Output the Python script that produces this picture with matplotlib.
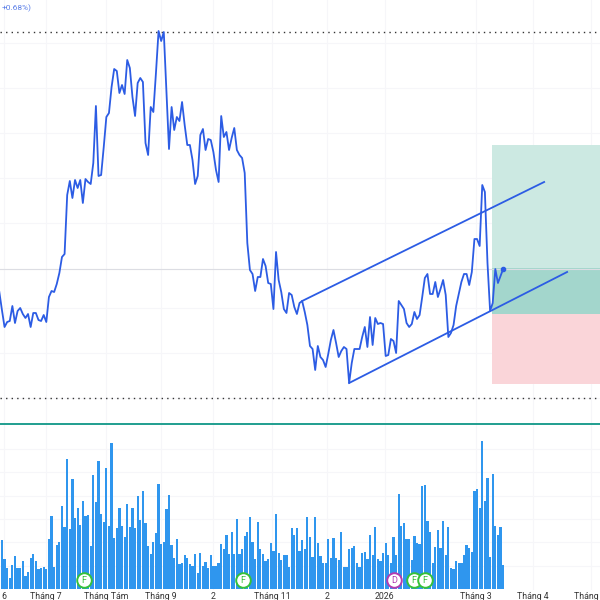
import matplotlib.pyplot as plt
import numpy as np

plt.rcParams['font.family'] = ['Roboto', 'DejaVu Sans']

closes = [
    131, 113, 96, 101, 102, 117, 100, 112, 115, 109,
    105, 109, 96, 110, 110, 103, 102, 108, 101, 126,
    132, 131, 139, 150, 166, 169, 228, 242, 225, 243,
    235, 243, 220, 244, 241, 239, 260, 317, 247, 248,
    276, 306, 310, 336, 354, 352, 330, 338, 329, 363,
    355, 326, 307, 340, 345, 341, 280, 268, 316, 311,
    350, 392, 382, 391, 333, 274, 316, 293, 306, 302,
    321, 298, 278, 278, 263, 239, 247, 288, 294, 273,
    284, 283, 271, 253, 241, 307, 286, 291, 273, 285,
    295, 273, 268, 265, 250, 180, 153, 149, 132, 146,
    146, 164, 157, 140, 139, 114, 171, 143, 131, 114,
    110, 130, 128, 116, 109, 120, 122, 111, 98, 77,
    74, 53, 77, 66, 63, 56, 69, 83, 93, 80,
    66, 72, 76, 74, 40, 60, 74, 74, 74, 86,
    96, 76, 106, 78, 105, 99, 100, 99, 67, 68,
    84, 82, 70, 122, 118, 114, 100, 96, 99, 111,
    104, 108, 126, 145, 149, 129, 129, 141, 126, 134,
    143, 128, 86, 90, 98, 117, 129, 141, 149, 149,
    138, 151, 184, 184, 177, 238, 231, 160, 112, 120,
    154, 140, 147, 154,
]

volumes = [
    72, 147, 89, 62, 34, 72, 99, 62, 63, 83,
    39, 52, 92, 105, 85, 60, 64, 65, 59, 151,
    218, 67, 132, 140, 248, 187, 389, 179, 329, 212,
    242, 192, 264, 220, 223, 130, 341, 260, 384, 226,
    200, 364, 190, 437, 152, 183, 242, 190, 157, 254,
    185, 242, 183, 278, 207, 294, 199, 129, 104, 140,
    167, 316, 134, 142, 239, 281, 132, 92, 150, 75,
    79, 101, 92, 76, 69, 105, 49, 109, 70, 81,
    62, 102, 69, 69, 79, 135, 119, 163, 104, 172,
    105, 211, 104, 119, 160, 170, 216, 142, 89, 201,
    119, 104, 83, 89, 137, 114, 225, 109, 86, 103,
    102, 67, 184, 163, 183, 115,
    147, 119, 217, 156, 95, 217, 139, 99, 79, 79,
    151, 94, 154, 92, 87, 171, 66, 67, 119, 122,
    128, 77, 66, 108, 110, 90, 161, 103, 187, 90,
    83, 107, 138, 101, 77, 156, 101, 286, 189, 197,
    149, 150, 87, 158, 139, 134, 309, 313, 203, 170,
    79, 125, 177, 123, 204, 101, 187, 64, 59, 84,
    78, 77, 102, 132, 123, 112, 294, 300, 243, 443,
    264, 334, 95, 345, 189, 163, 187, 72,
]

tick_sessions = [1.8, 18, 41, 61.8, 82, 104.5, 125.5, 147.7, 182.5, 204.5, 226.5]
tick_labels = ['6', 'Tháng 7', 'Tháng Tám', 'Tháng 9', '2', 'Tháng 11', '2',
               '2026', 'Tháng 3', 'Tháng 4', 'Tháng N']
grid_prices = [25, 70, 115, 154, 200, 245, 290, 335, 380]
grid_volumes = [70, 140, 210, 280, 350, 420]

channel_upper = ([116, 208.7], [122, 241])
channel_lower = ([134, 217.5], [40, 151])
position_start = 188.8
position_top, position_now, position_entry, position_stop = 278, 155, 109, 39
range_high, range_low, last_price = 391, 25, 154

event_sessions = [32.4, 93.3, 151.2, 158.8, 163]
event_letters = ['F', 'F', 'D', 'F', 'F']

X_MIN, X_MAX = 0.26, 230.1
LINE_BLUE = '#2c5ce4'
GRID = '#f6f6f9'


def draw_price(ax: plt.Axes) -> None:
    sessions = np.arange(len(closes))
    ax.axvspan(position_start, X_MAX, ymin=position_now / 423, ymax=position_top / 423,
               color='#cce9e2', lw=0)
    ax.axvspan(position_start, X_MAX, ymin=position_entry / 423, ymax=position_now / 423,
               color='#a3d6cc', lw=0)
    ax.axvspan(position_start, X_MAX, ymin=position_stop / 423, ymax=position_entry / 423,
               color='#fad5d9', lw=0)

    ax.axhline(last_price, color='#dcdde3', lw=0.8)
    ax.axhline(range_high, color='#333333', lw=1, ls=(0, (1, 3)))
    ax.axhline(range_low, color='#333333', lw=1, ls=(0, (1, 3)))

    ax.plot(sessions, closes, color=LINE_BLUE, lw=1.3, solid_joinstyle='round')
    ax.plot(*channel_upper, color=LINE_BLUE, lw=1.3)
    ax.plot(*channel_lower, color=LINE_BLUE, lw=1.3)
    ax.plot(sessions[-1], closes[-1], 'o', color=LINE_BLUE, ms=3)

    ax.set_ylim(0, 423)
    ax.set_yticks(grid_prices)
    ax.text(0.002, 0.98, '+0.68%)', transform=ax.transAxes, color='#5b7fe8',
            fontsize=6, va='center')


def draw_volume(ax: plt.Axes) -> None:
    ax.bar(np.arange(len(volumes)), volumes, width=0.86, color='#2f96ee', zorder=2)
    for session, letter in zip(event_sessions, event_letters):
        edge = '#b23cb0' if letter == 'D' else '#35c13a'
        ax.plot(session, 27, 'o', ms=10.5, mfc='white', mec=edge, mew=1.4, zorder=3)
        ax.text(session, 26, letter, color=edge, fontsize=6.5, ha='center', va='center',
                zorder=4)
    ax.set_ylim(-3, 495)
    ax.set_yticks(grid_volumes)


def main() -> None:
    fig = plt.figure(figsize=(6, 6), dpi=100)
    ax_price = fig.add_axes([0, 177 / 600, 1, 423 / 600])
    ax_volume = fig.add_axes([0, 10 / 600, 1, 166 / 600])

    draw_price(ax_price)
    draw_volume(ax_volume)

    for ax in (ax_price, ax_volume):
        ax.set_xlim(X_MIN, X_MAX)
        ax.set_xticks(tick_sessions)
        ax.grid(True, color=GRID, lw=0.8)
        ax.set_axisbelow(True)
        ax.tick_params(length=0, labelleft=False, labelbottom=False)
        for spine in ax.spines.values():
            spine.set_visible(False)

    ax_volume.spines['top'].set_visible(True)
    ax_volume.spines['top'].set_color('#1f9e8f')
    ax_volume.spines['top'].set_linewidth(1.4)
    ax_volume.set_xticklabels(tick_labels)
    ax_volume.tick_params(labelbottom=True, labelsize=6.3, labelcolor='#333333', pad=1.5)

    fig.savefig('out.png', dpi=100)


if __name__ == '__main__':
    main()
